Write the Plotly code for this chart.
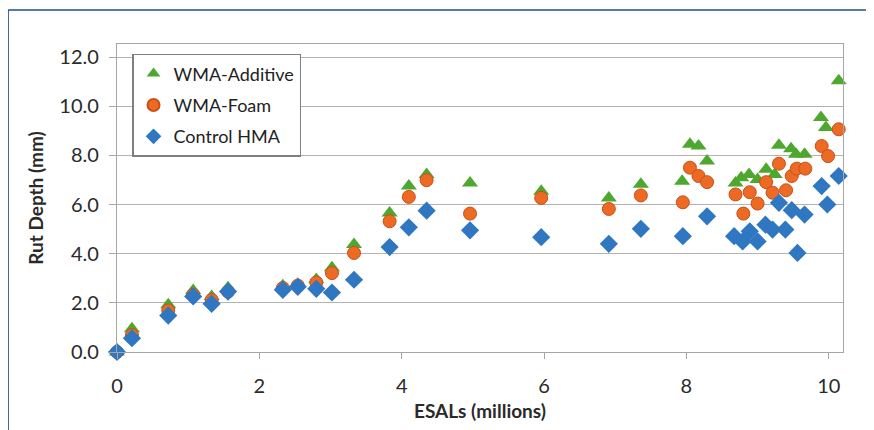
import plotly.graph_objects as go

# WMA-Additive (green triangles)
add_x = [0.0, 0.21, 0.72, 1.07, 1.33, 1.56, 2.33, 2.54, 2.80, 3.02, 3.33, 3.83, 4.10, 4.35, 4.96, 5.96, 6.91, 7.36,
         7.94, 8.05, 8.17, 8.29, 8.69, 8.77, 8.88, 9.00, 9.12, 9.24, 9.30, 9.47, 9.54, 9.66, 9.89, 9.96, 10.14]
add_y = [0.0, 0.95, 1.92, 2.50, 2.26, 2.61, 2.70, 2.76, 2.95, 3.43, 4.37, 5.65, 6.75, 7.22, 6.88, 6.54, 6.27, 6.82,
         6.95, 8.45, 8.38, 7.77, 6.88, 7.09, 7.22, 7.02, 7.43, 7.22, 8.41, 8.27, 8.04, 8.04, 9.54, 9.13, 11.03]

# WMA-Foam (orange circles)
foam_x = [0.0, 0.21, 0.72, 1.07, 1.33, 1.56, 2.33, 2.54, 2.80, 3.02, 3.33, 3.83, 4.10, 4.35, 4.96, 5.96, 6.91, 7.36,
          7.95, 8.05, 8.17, 8.29, 8.69, 8.80, 8.89, 9.00, 9.12, 9.21, 9.30, 9.40, 9.48, 9.55, 9.67, 9.90, 9.99, 10.14]
foam_y = [0.0, 0.69, 1.69, 2.33, 2.12, 2.46, 2.60, 2.70, 2.83, 3.21, 4.03, 5.32, 6.31, 6.99, 5.63, 6.27, 5.82, 6.37,
          6.09, 7.50, 7.16, 6.91, 6.41, 5.63, 6.50, 6.04, 6.91, 6.48, 7.66, 6.58, 7.16, 7.46, 7.46, 8.38, 7.97, 9.06]

# Control HMA (blue diamonds)
hma_x = [0.0, 0.21, 0.72, 1.07, 1.33, 1.56, 2.33, 2.54, 2.80, 3.02, 3.33, 3.83, 4.10, 4.35, 4.96, 5.96, 6.91, 7.36,
         7.95, 8.29, 8.67, 8.79, 8.89, 9.00, 9.11, 9.21, 9.30, 9.39, 9.48, 9.56, 9.66, 9.90, 9.98, 10.14]
hma_y = [0.0, 0.56, 1.48, 2.26, 1.96, 2.46, 2.53, 2.65, 2.57, 2.42, 2.94, 4.27, 5.07, 5.75, 4.95, 4.67, 4.40, 5.01,
         4.71, 5.52, 4.71, 4.50, 4.91, 4.50, 5.18, 4.98, 6.07, 4.98, 5.77, 4.03, 5.59, 6.75, 6.00, 7.16]

x_ticks = [0, 2, 4, 6, 8, 10]
y_ticks = [0, 2, 4, 6, 8, 10, 12]

FONT = "Lato, 'Open Sans', sans-serif"
TXT = "#2a2a2a"

fig = go.Figure()
fig.add_trace(go.Scatter(
    x=add_x, y=add_y, mode="markers", name="WMA-Additive", legendgroup="a",
    marker=dict(symbol="triangle-up", size=14, color="#4ea72e", line=dict(width=0)),
    cliponaxis=False))
fig.add_trace(go.Scatter(
    x=foam_x, y=foam_y, mode="markers", name="WMA-Foam", legendgroup="b",
    marker=dict(symbol="circle", size=13, color="#ec6a24", line=dict(width=1, color="#c8501a")),
    cliponaxis=False))
fig.add_trace(go.Scatter(
    x=hma_x, y=hma_y, mode="markers", name="Control HMA", legendgroup="c",
    marker=dict(symbol="diamond", size=14, color="#2f77c0", line=dict(width=0)),
    cliponaxis=False))

fig.update_layout(
    width=866, height=422,
    margin=dict(l=109, r=31, t=36, b=78),
    paper_bgcolor="white", plot_bgcolor="white",
    font=dict(family=FONT, size=17, color=TXT),
    showlegend=True,
    legend=dict(
        x=0.0207, y=0.968, xanchor="left", yanchor="top",
        bgcolor="white", bordercolor="#7f7f7f", borderwidth=1.5,
        font=dict(family=FONT, size=18, color="#222222"),
        itemsizing="constant", tracegroupgap=5,
    ),
    xaxis=dict(
        range=[0, 10.2], tickvals=x_ticks, ticktext=[str(v) for v in x_ticks],
        showgrid=False, zeroline=False, automargin=False,
        showline=True, linecolor="#a6a6a6", linewidth=1.2, mirror=True,
        ticks="outside", ticklen=6, tickcolor="#a6a6a6", ticklabelstandoff=10,
        tickfont=dict(size=20, color=TXT),
        title=dict(text="<b>ESALs (millions)</b>", font=dict(size=19, color=TXT), standoff=8),
    ),
    yaxis=dict(
        range=[0, 12.53], tickvals=y_ticks, ticktext=[f"{v:.1f}" for v in y_ticks],
        showgrid=True, gridcolor="#b3b3b3", gridwidth=1.2, zeroline=False, automargin=False,
        showline=True, linecolor="#a6a6a6", linewidth=1.2, mirror=True,
        ticks="outside", ticklen=7, tickcolor="#a6a6a6", ticklabelstandoff=6,
        tickfont=dict(size=20, color=TXT),
        title=dict(text="<b>Rut Depth (mm)</b>", font=dict(size=19, color=TXT), standoff=10),
    ),
    shapes=[
        dict(type="line", xref="paper", yref="paper", x0=-0.150, x1=1.06, y0=1.1104, y1=1.1104,
             line=dict(color="#1f4e8c", width=1.5)),
        dict(type="line", xref="paper", yref="paper", x0=-0.150, x1=-0.150, y0=1.1104, y1=-0.3,
             line=dict(color="#1f4e8c", width=1.5)),
    ],
)

fig.write_html("out.html")
